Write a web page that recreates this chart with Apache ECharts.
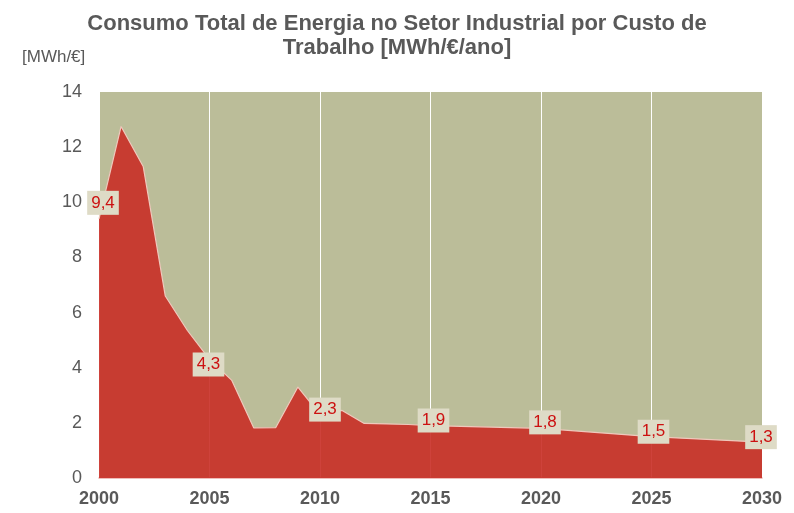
<!DOCTYPE html>
<html>
<head>
<meta charset="utf-8">
<script src="https://cdn.jsdelivr.net/npm/echarts@6/dist/echarts.min.js"></script>
<style>
  html, body { margin: 0; padding: 0; background: #ffffff; }
  #chart { width: 794px; height: 513px; }
</style>
</head>
<body>
<div id="chart"></div>
<script>
// Energy consumption per labour cost, industrial sector (MWh/€)
const years = [2000, 2001, 2002, 2003, 2004, 2005, 2006, 2007, 2008, 2009, 2010, 2011, 2012, 2013, 2014, 2015, 2020, 2025, 2030];
const values = [9.4, 12.75, 11.3, 6.6, 5.35, 4.3, 3.55, 1.82, 1.83, 3.3, 2.3, 2.45, 1.98, 1.96, 1.94, 1.9, 1.8, 1.5, 1.3];
const labelledYears = [2000, 2005, 2010, 2015, 2020, 2025, 2030];
const yTicks = [0, 2, 4, 6, 8, 10, 12, 14];
const xTicks = [2000, 2005, 2010, 2015, 2020, 2025, 2030];

const font = 'Liberation Sans, Arial, sans-serif';
const grey = '#595959';

// small nudges so the value boxes sit clear of the curve
const labelNudge = { 2000: [4, -16], 2005: [-1, 5], 2010: [5, -5], 2015: [3, -5], 2020: [4, -6], 2025: [2, -5], 2030: [-1, -5] };

const chart = echarts.init(document.getElementById('chart'), null, { renderer: 'canvas' });

const seriesData = years.map((y, i) => {
  const item = { value: [y, values[i]] };
  if (labelledYears.includes(y)) {
    item.label = { show: true, offset: labelNudge[y] };
  }
  return item;
});

chart.setOption({
  animation: false,
  title: {
    text: 'Consumo Total de Energia no Setor Industrial por Custo de\nTrabalho [MWh/€/ano]',
    left: 'center',
    top: 7,
    textStyle: { fontFamily: font, fontSize: 22, fontWeight: 'bold', color: grey, lineHeight: 24 }
  },
  graphic: [{
    type: 'text',
    left: 22,
    top: 49,
    style: { text: '[MWh/€]', font: '17px ' + font, fill: grey }
  }],
  grid: {
    left: 99, right: 32, top: 92, bottom: 35,
    show: true,
    backgroundColor: '#bbbd99',
    borderWidth: 0
  },
  xAxis: {
    type: 'value',
    min: 2000, max: 2030, interval: 5,
    axisLine: { show: true, lineStyle: { color: '#e9a9a2', width: 1.5 } },
    axisTick: { show: false },
    axisLabel: {
      color: grey, fontFamily: font, fontSize: 18, fontWeight: 'bold', margin: 12,
      formatter: v => xTicks.includes(v) ? String(v) : ''
    },
    splitLine: { show: true, lineStyle: { color: '#ffffff', width: 1 } }
  },
  yAxis: {
    type: 'value',
    min: 0, max: 14, interval: 2,
    axisLine: { show: false },
    axisTick: { show: false },
    axisLabel: {
      color: grey, fontFamily: font, fontSize: 18, margin: 17,
      formatter: v => yTicks.includes(v) ? String(v) : ''
    },
    splitLine: { show: false }
  },
  series: [{
    type: 'line',
    data: seriesData,
    symbol: 'circle',
    symbolSize: 0.1,
    showSymbol: true,
    itemStyle: { color: 'rgba(0,0,0,0)' },
    lineStyle: { color: '#efc8bc', width: 1.2 },
    areaStyle: { color: '#c92e26', opacity: 0.9 },
    label: {
      show: false,
      position: 'inside',
      formatter: p => p.value[1].toFixed(1).replace('.', ','),
      color: '#cc1111',
      fontFamily: font,
      fontSize: 17,
      backgroundColor: '#dedbc6',
      padding: [4, 4, 3, 4]
    },
    z: 2
  }]
});
</script>
</body>
</html>
